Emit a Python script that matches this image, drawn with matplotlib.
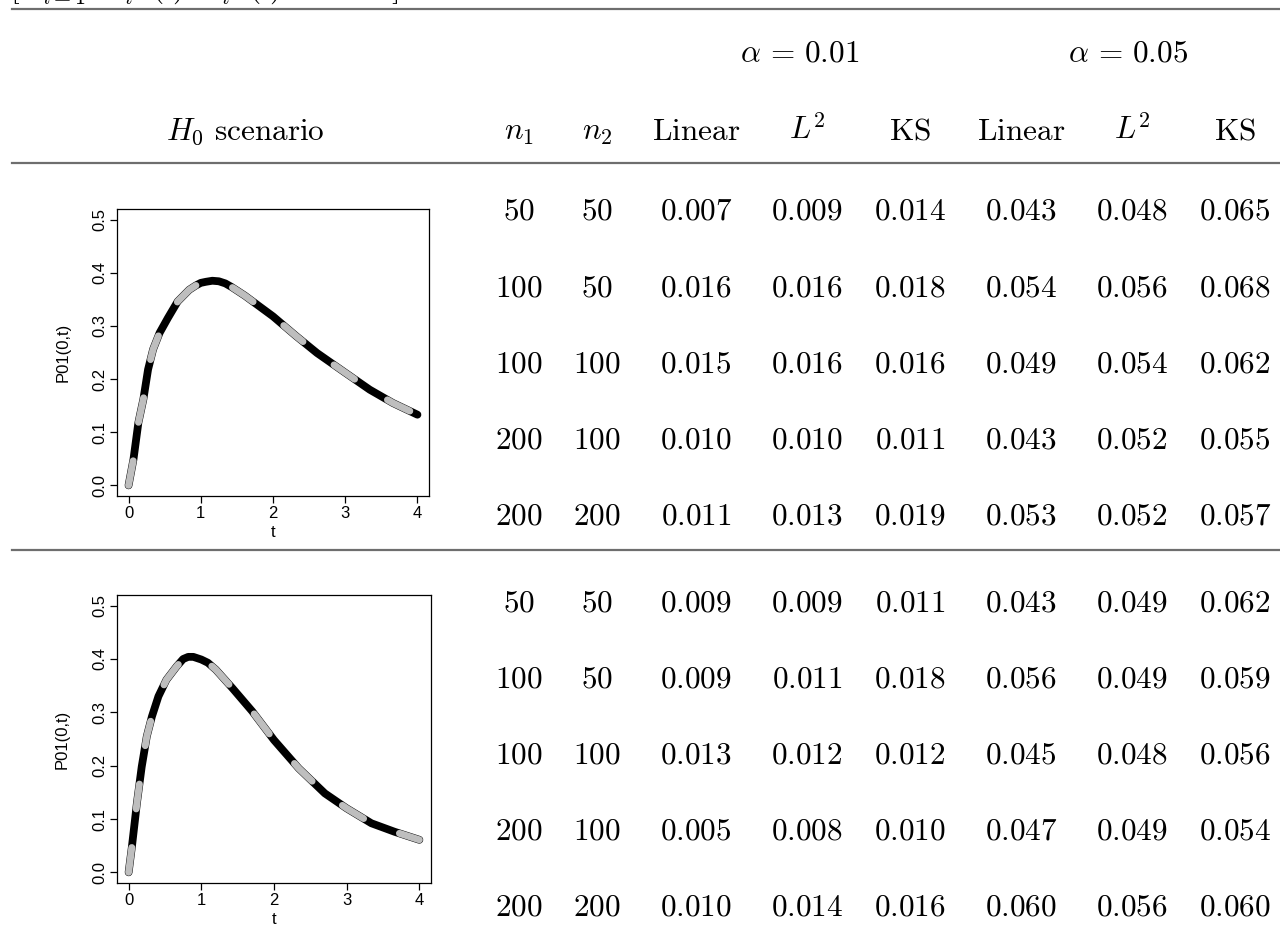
import matplotlib
matplotlib.use("Agg")
import matplotlib.pyplot as plt

plt.rcParams['mathtext.fontset'] = 'cm'
plt.rcParams['font.family'] = ['Liberation Sans', 'DejaVu Sans']
plt.rcParams['lines.scale_dashes'] = False

# ---------------- data ----------------
n1 = [50, 100, 100, 200, 200]
n2 = [50, 50, 100, 100, 200]

# scenario 1
s1_lin_01 = [0.007, 0.016, 0.015, 0.010, 0.011]
s1_l2_01 = [0.009, 0.016, 0.016, 0.010, 0.013]
s1_ks_01 = [0.014, 0.018, 0.016, 0.011, 0.019]
s1_lin_05 = [0.043, 0.054, 0.049, 0.043, 0.053]
s1_l2_05 = [0.048, 0.056, 0.054, 0.052, 0.052]
s1_ks_05 = [0.065, 0.068, 0.062, 0.055, 0.057]

# scenario 2
s2_lin_01 = [0.009, 0.009, 0.013, 0.005, 0.010]
s2_l2_01 = [0.009, 0.011, 0.012, 0.008, 0.014]
s2_ks_01 = [0.011, 0.018, 0.012, 0.010, 0.016]
s2_lin_05 = [0.043, 0.056, 0.045, 0.047, 0.060]
s2_l2_05 = [0.049, 0.049, 0.048, 0.049, 0.056]
s2_ks_05 = [0.062, 0.059, 0.056, 0.054, 0.060]

# curves: P01(0,t)
t1 = [0.0, 0.068, 0.136, 0.205, 0.27, 0.34, 0.43, 0.545, 0.68, 0.84, 0.93, 1.0,
      1.07, 1.16, 1.25, 1.34, 1.43, 1.61, 1.8, 2.0, 2.32, 2.61, 3.0, 3.34, 3.66, 4.0]
p1 = [0.0, 0.049, 0.118, 0.162, 0.218, 0.256, 0.287, 0.315, 0.346, 0.368, 0.376, 0.381,
      0.383, 0.385, 0.384, 0.380, 0.373, 0.357, 0.338, 0.318, 0.281, 0.249, 0.212,
      0.180, 0.155, 0.133]
t2 = [0.0, 0.045, 0.114, 0.18, 0.25, 0.32, 0.41, 0.52, 0.66, 0.75, 0.82, 0.89, 1.0,
      1.09, 1.2, 1.43, 1.70, 2.0, 2.34, 2.70, 3.0, 3.34, 3.66, 4.0]
p2 = [0.0, 0.048, 0.130, 0.198, 0.255, 0.292, 0.330, 0.361, 0.386, 0.400, 0.404,
      0.404, 0.399, 0.393, 0.380, 0.345, 0.302, 0.248, 0.195, 0.148, 0.120, 0.092,
      0.076, 0.061]

col_headers = [r'$n_1$', r'$n_2$', r'$\mathrm{Linear}$', r'$L^2$', r'$\mathrm{KS}$',
               r'$\mathrm{Linear}$', r'$L^2$', r'$\mathrm{KS}$']
alpha_labels = [r'$\alpha\,=\,0.01$', r'$\alpha\,=\,0.05$']
scenario_header = r'$H_0\ \mathrm{scenario}$'
xticks = [0, 1, 2, 3, 4]
yticks = [0.0, 0.1, 0.2, 0.3, 0.4, 0.5]

# ---------------- layout (pixels) ----------------
W, H = 1280, 930
fig = plt.figure(figsize=(W / 100, H / 100), dpi=100)

def fx(x):
    return x / W

def fy(y):
    return 1 - y / H

FS = 22.5
col_x = [519, 597, 696, 807, 910, 1021, 1132, 1235]
row_base = [[220, 296, 372, 448, 524], [611, 687, 763, 839, 915]]
line_col = '#6e6e6e'

# horizontal rules
for y in [9, 163, 550]:
    fig.add_artist(plt.Line2D([fx(12), fx(1280)], [fy(y), fy(y)], color=line_col,
                              lw=1.6, transform=fig.transFigure))

# cut-off formula at the very top
fig.text(fx(10), fy(7), r'$[\mathbf{\Pi}_{l=1}^{n}\ \ \lambda_i^{01}(\cdot)\ \ \lambda_i^{02}(\cdot)\qquad\qquad]$',
         fontsize=FS, ha='left', va='bottom')

# alpha headers
fig.text(fx(800), fy(53), alpha_labels[0], fontsize=FS, ha='center', va='center')
fig.text(fx(1128), fy(53), alpha_labels[1], fontsize=FS, ha='center', va='center')

# column headers
fig.text(fx(245), fy(140), scenario_header, fontsize=FS, ha='center', va='baseline')
for x, lab in zip(col_x, col_headers):
    fig.text(fx(x), fy(140), lab, fontsize=FS, ha='center', va='baseline')

# table body
groups = [
    [n1, n2, s1_lin_01, s1_l2_01, s1_ks_01, s1_lin_05, s1_l2_05, s1_ks_05],
    [n1, n2, s2_lin_01, s2_l2_01, s2_ks_01, s2_lin_05, s2_l2_05, s2_ks_05],
]
for g, cols in enumerate(groups):
    for c, (x, vals) in enumerate(zip(col_x, cols)):
        for r, v in enumerate(vals):
            s = f'{v:d}' if c < 2 else f'{v:.3f}'
            fig.text(fx(x), fy(row_base[g][r]), f'${s}$', fontsize=FS,
                     ha='center', va='baseline')

# small plots
axes_px = [(117, 209, 312, 287), (117, 595, 314, 288)]
curves = [(t1, p1), (t2, p2)]
for (l, t, w, h), (tt, pp) in zip(axes_px, curves):
    ax = fig.add_axes([fx(l), fy(t + h), w / W, h / H])
    ax.plot(tt, pp, color='black', lw=5.6, solid_capstyle='round',
            solid_joinstyle='round', zorder=2)
    ax.plot(tt, pp, color='#bebebe', lw=5.0, dashes=(18, 28),
            dash_capstyle='round', dash_joinstyle='round', zorder=3)
    ax.set_xlim(-0.16, 4.16)
    ax.set_ylim(-0.02, 0.52)
    ax.set_xticks(xticks)
    ax.set_xticklabels([str(v) for v in xticks])
    ax.set_yticks(yticks)
    ax.set_yticklabels([f'{v:.1f}' for v in yticks], rotation=90, va='center')
    ax.tick_params(direction='out', length=5, width=0.9, labelsize=12, pad=2,
                   colors='black')
    for sp in ax.spines.values():
        sp.set_linewidth(0.9)
    ax.set_xlabel('t', fontsize=12)
    ax.set_ylabel('P01(0,t)', fontsize=12)
    ax.xaxis.set_label_coords(0.5, -0.10)
    ax.yaxis.set_label_coords(-0.15, 0.5)

fig.savefig('out.png', dpi=100)
